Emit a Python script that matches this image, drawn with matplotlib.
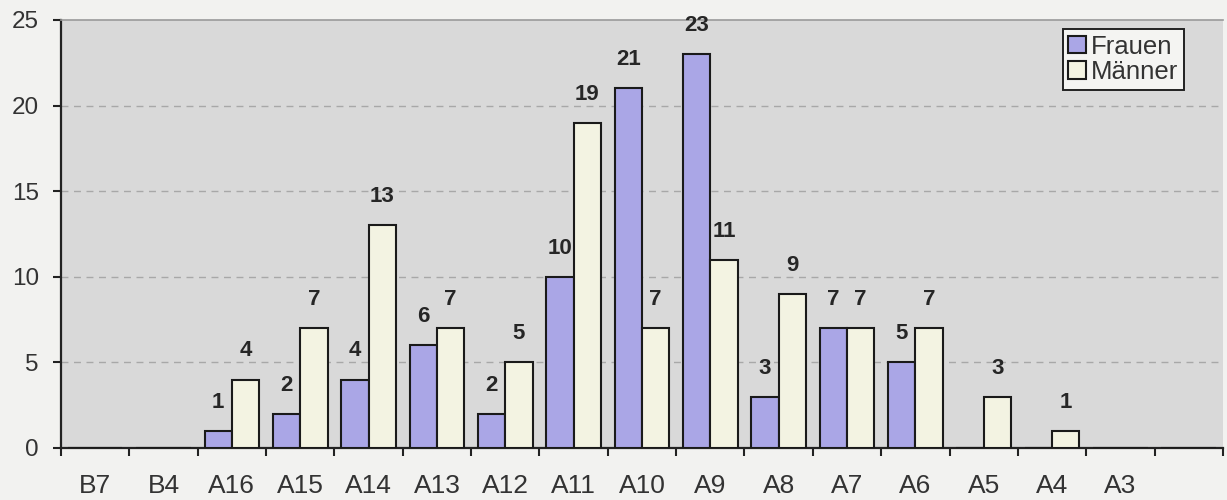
import numpy as np
import matplotlib
matplotlib.use("Agg")
import matplotlib.pyplot as plt
from matplotlib.ticker import FixedLocator

categories = ["B7", "B4", "A16", "A15", "A14", "A13", "A12", "A11", "A10",
              "A9", "A8", "A7", "A6", "A5", "A4", "A3", ""]
frauen = [0, 0, 1, 2, 4, 6, 2, 10, 21, 23, 3, 7, 5, 0, 0, 0, 0]
maenner = [0, 0, 4, 7, 13, 7, 5, 19, 7, 11, 9, 7, 7, 3, 1, 0, 0]
series_names = ["Frauen", "Männer"]
y_ticks = [0, 5, 10, 15, 20, 25]

plt.rcParams["font.family"] = ["Liberation Sans", "DejaVu Sans"]

fig = plt.figure(figsize=(12.27, 5.0), dpi=100)
fig.patch.set_facecolor("#f2f2f0")
ax = fig.add_axes([0.0497, 0.104, 0.947, 0.856])
ax.set_facecolor("#d9d9d9")

x = np.arange(len(categories))
w = 0.4
col_f = "#aaa6e6"
col_m = "#f3f3e2"

bf = ax.bar(x - w / 2, frauen, w, color=col_f, edgecolor="#1a1a1a",
            linewidth=1.5, label=series_names[0], zorder=3)
bm = ax.bar(x + w / 2, maenner, w, color=col_m, edgecolor="#1a1a1a",
            linewidth=1.5, label=series_names[1], zorder=3)

for bars, vals in ((bf, frauen), (bm, maenner)):
    for rect, v in zip(bars, vals):
        if v > 0:
            ax.annotate(str(v), (rect.get_x() + rect.get_width() / 2, v),
                        xytext=(0, 13), textcoords="offset points",
                        ha="center", va="bottom", fontsize=16,
                        fontweight="bold", color="#262626")

ax.set_xlim(-0.5, len(categories) - 0.5)
ax.set_ylim(0, 25)
ax.set_yticks(y_ticks)
ax.tick_params(axis="y", labelsize=17.5, length=6, width=1.5, color="#222222",
               labelcolor="#333333", direction="out", pad=10)

ax.set_xticks(x)
ax.set_xticklabels(categories)
ax.xaxis.set_minor_locator(FixedLocator(np.arange(-0.5, len(categories), 1.0)))
ax.tick_params(axis="x", which="major", length=0, labelsize=19,
               labelcolor="#333333", pad=19)
ax.tick_params(axis="x", which="minor", length=6, width=1.5, color="#222222",
               direction="out")

for yv in y_ticks[1:-1]:
    ax.axhline(yv, color="#a8a8a8", linewidth=1.0, linestyle=(0, (5, 4)),
               zorder=1)

ax.spines["left"].set_color("#222222")
ax.spines["left"].set_linewidth(1.6)
ax.spines["bottom"].set_color("#222222")
ax.spines["bottom"].set_linewidth(1.6)
ax.spines["top"].set_color("#9a9a9a")
ax.spines["top"].set_linewidth(1.2)
ax.spines["right"].set_visible(False)

leg = ax.legend(loc="upper right", bbox_to_anchor=(0.9664, 0.979),
                fontsize=18.5, frameon=True, fancybox=False,
                edgecolor="#222222", facecolor="#f4f4f2", framealpha=1,
                handlelength=0.68, handleheight=0.68, handletextpad=0.2,
                borderpad=0.22, labelspacing=0.05, borderaxespad=0)
leg.get_frame().set_linewidth(1.4)
for t in leg.get_texts():
    t.set_color("#333333")

fig.savefig("out.png", dpi=100, facecolor=fig.get_facecolor())
